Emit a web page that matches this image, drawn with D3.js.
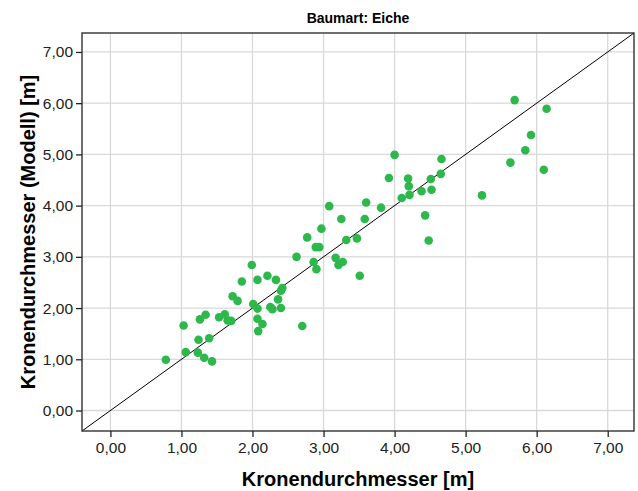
<!DOCTYPE html>
<html>
<head>
<meta charset="utf-8">
<script src="https://cdn.jsdelivr.net/npm/d3@7"></script>
<style>
  body { margin: 0; background: #fff; }
  text { font-family: "Liberation Sans", Arial, sans-serif; }
</style>
</head>
<body>
<div id="chart-area"></div>
<script>
// Kronendurchmesser gemessen (x) vs. Modell (y)
var measured = [0.78, 1.03, 1.06, 1.24, 1.26, 1.34, 1.23, 1.32, 1.43, 1.39,
    1.53, 1.61, 1.65, 1.70, 1.72, 1.79, 1.85, 1.99, 2.01, 2.07,
    2.08, 2.07, 2.07, 2.14, 2.21, 2.25, 2.28, 2.33, 2.36, 2.40,
    2.40, 2.42, 2.62, 2.70, 2.77, 2.86, 2.89, 2.90, 2.94, 2.97,
    3.08, 3.17, 3.21, 3.27, 3.25, 3.32, 3.47, 3.51, 3.58, 3.60,
    3.81, 3.92, 4.00, 4.10, 4.21, 4.19, 4.20, 4.38, 4.43, 4.48,
    4.52, 4.51, 4.66, 4.65, 5.23, 5.63, 5.69, 5.84, 5.92, 6.10, 6.14];
var model = [0.99, 1.66, 1.14, 1.38, 1.78, 1.87, 1.13, 1.03, 0.96, 1.41,
    1.82, 1.88, 1.76, 1.75, 2.23, 2.14, 2.52, 2.84, 2.08, 1.79,
    1.55, 2.55, 1.99, 1.69, 2.63, 2.02, 1.98, 2.55, 2.17, 2.00,
    2.34, 2.39, 3.00, 1.65, 3.38, 2.90, 3.19, 2.76, 3.19, 3.55,
    3.99, 2.98, 2.84, 2.90, 3.74, 3.33, 3.36, 2.63, 3.74, 4.06,
    3.96, 4.54, 4.99, 4.15, 4.21, 4.53, 4.38, 4.28, 3.81, 3.32,
    4.31, 4.52, 4.91, 4.62, 4.20, 4.84, 6.06, 5.08, 5.38, 4.70, 5.89];
var tickValues = [0, 1, 2, 3, 4, 5, 6, 7];
var axisDomain = [-0.4, 7.37];

var points = measured.map(function(d, i) { return { x: d, y: model[i] }; });

var margin = { left: 82, right: 4, top: 33, bottom: 60 },
    width = 638 - margin.left - margin.right,
    height = 491 - margin.top - margin.bottom;

var formatTick = function(d) { return d3.format(".2f")(d).replace(".", ","); };

var svg = d3.select("#chart-area").append("svg")
    .attr("width", 638)
    .attr("height", 491);

var g = svg.append("g")
    .attr("transform", "translate(" + margin.left + "," + margin.top + ")");

var x = d3.scaleLinear().domain(axisDomain).range([0, width]);
var y = d3.scaleLinear().domain(axisDomain).range([height, 0]);

// Grid
g.append("g").selectAll("line").data(tickValues).enter().append("line")
    .attr("x1", function(d) { return x(d); })
    .attr("x2", function(d) { return x(d); })
    .attr("y1", 0).attr("y2", height)
    .attr("stroke", "#d9d9d9").attr("stroke-width", 1.3);
g.append("g").selectAll("line").data(tickValues).enter().append("line")
    .attr("y1", function(d) { return y(d); })
    .attr("y2", function(d) { return y(d); })
    .attr("x1", 0).attr("x2", width)
    .attr("stroke", "#d9d9d9").attr("stroke-width", 1.3);

// Diagonal y = x
g.append("line")
    .attr("x1", x(axisDomain[0])).attr("y1", y(axisDomain[0]))
    .attr("x2", x(axisDomain[1])).attr("y2", y(axisDomain[1]))
    .attr("stroke", "#000").attr("stroke-width", 1);

// Points
g.append("g").selectAll("circle").data(points).enter().append("circle")
    .attr("cx", function(d) { return x(d.x); })
    .attr("cy", function(d) { return y(d.y); })
    .attr("r", 4.3)
    .attr("fill", "#2db84b");

// Axes
var xAxis = g.append("g")
    .attr("transform", "translate(0," + height + ")")
    .call(d3.axisBottom(x).tickValues(tickValues).tickFormat(formatTick).tickSizeOuter(0).tickSize(6).tickPadding(5));
var yAxis = g.append("g")
    .call(d3.axisLeft(y).tickValues(tickValues).tickFormat(formatTick).tickSizeOuter(0).tickSize(6).tickPadding(3));
[xAxis, yAxis].forEach(function(a) {
    a.select(".domain").remove();
    a.selectAll("line").attr("stroke", "#222").attr("stroke-width", 1.3);
    a.selectAll("text").attr("fill", "#222").style("font-size", "15.5px");
});

// Frame
g.append("rect")
    .attr("width", width).attr("height", height)
    .attr("fill", "none").attr("stroke", "#222").attr("stroke-width", 1.3);

// Titles
svg.append("text")
    .attr("x", margin.left + width / 2).attr("y", 23)
    .attr("text-anchor", "middle")
    .style("font-size", "14px").style("font-weight", "bold")
    .text("Baumart: Eiche");

svg.append("text")
    .attr("x", margin.left + width / 2).attr("y", 486)
    .attr("text-anchor", "middle")
    .style("font-size", "20px").style("font-weight", "bold")
    .text("Kronendurchmesser [m]");

svg.append("text")
    .attr("transform", "translate(35," + (margin.top + height / 2) + ") rotate(-90)")
    .attr("text-anchor", "middle")
    .style("font-size", "20px").style("font-weight", "bold")
    .text("Kronendurchmesser (Modell) [m]");
</script>
</body>
</html>
